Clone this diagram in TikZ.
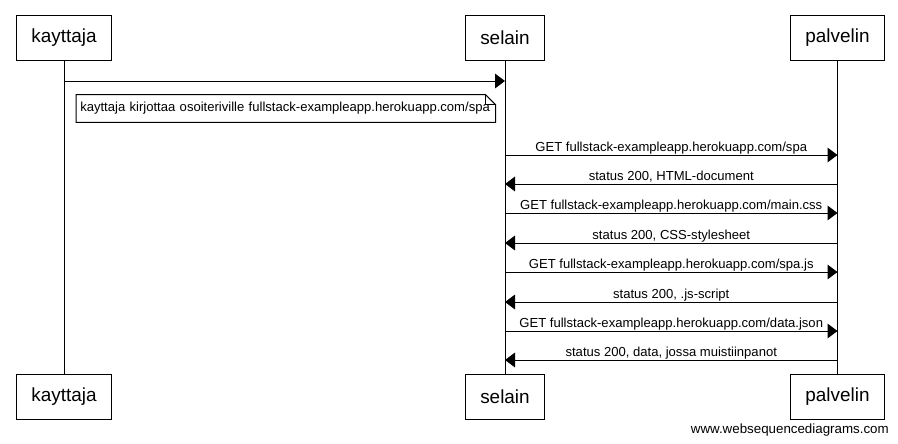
\documentclass[tikz,border=0pt]{standalone}
\usepackage{fontspec}
\setmainfont{Liberation Sans}
\usepackage{tikz}
\usetikzlibrary{arrows.meta}

\tikzset{
  actor/.style={draw, line width=0.75pt, font=\fontsize{14.2}{16}\selectfont,
    inner xsep=11.25pt, minimum height=33.75pt},
  msg/.style={line width=0.75pt, -{Triangle[length=7.5pt,width=11pt]}},
  msglabel/.style={midway, anchor=base, yshift=3pt, inner sep=0pt,
    font=\fontsize{9.8}{11}\selectfont},
  notebox/.style={anchor=west, inner xsep=3pt, minimum height=20.25pt,
    text width=308.25pt, align=left, font=\fontsize{9.8}{11}\selectfont}
}

\begin{document}
\begin{tikzpicture}[x=0.75pt, y=-0.75pt]
\useasboundingbox (0,0) rectangle (898,443);

% osallistujat ylhaalla ja alhaalla
\node[actor] (kt) at (64,37.5) {kayttaja};
\node[actor] (st) at (505,37.5) {selain};
\node[actor] (pt) at (837.5,37.5) {palvelin};
\node[actor] (kb) at (64,396.5) {kayttaja};
\node[actor] (sb) at (505,396.5) {selain};
\node[actor] (pb) at (837.5,396.5) {palvelin};

% elamanviivat
\draw[line width=0.75pt] (kt) -- (kb);
\draw[line width=0.75pt] (st) -- (sb);
\draw[line width=0.75pt] (pt) -- (pb);

\draw[msg] (kt |- 0,81) -- (st |- 0,81);

% muistiinpano
\node[notebox] (nt) at (76,108.5)
  {kayttaja kirjottaa osoiteriville fullstack-exampleapp.herokuapp.com/spa};
\draw[line width=0.75pt] (nt.south west) -- (nt.north west)
  -- ([xshift=-7.5pt]nt.north east) -- ([yshift=-7.5pt]nt.north east)
  -- (nt.south east) -- cycle;
\draw[line width=0.75pt] ([xshift=-7.5pt]nt.north east)
  |- ([yshift=-7.5pt]nt.north east);

% pyynnot ja vastaukset
\draw[msg] (st |- 0,155) -- (pt |- 0,155)
  node[msglabel] {GET fullstack-exampleapp.herokuapp.com/spa};
\draw[msg] (pt |- 0,184) -- (st |- 0,184)
  node[msglabel] {status 200, HTML-document};
\draw[msg] (st |- 0,213) -- (pt |- 0,213)
  node[msglabel] {GET fullstack-exampleapp.herokuapp.com/main.css};
\draw[msg] (pt |- 0,243) -- (st |- 0,243)
  node[msglabel] {status 200, CSS-stylesheet};
\draw[msg] (st |- 0,272) -- (pt |- 0,272)
  node[msglabel] {GET fullstack-exampleapp.herokuapp.com/spa.js};
\draw[msg] (pt |- 0,302) -- (st |- 0,302)
  node[msglabel] {status 200, .js-script};
\draw[msg] (st |- 0,331) -- (pt |- 0,331)
  node[msglabel] {GET fullstack-exampleapp.herokuapp.com/data.json};
\draw[msg] (pt |- 0,360) -- (st |- 0,360)
  node[msglabel] {status 200, data, jossa muistiinpanot};

\node[anchor=base east, inner sep=0pt, font=\fontsize{10}{12}\selectfont] (wm)
  at (889,433) {www.websequencediagrams.com};
\end{tikzpicture}
\end{document}
